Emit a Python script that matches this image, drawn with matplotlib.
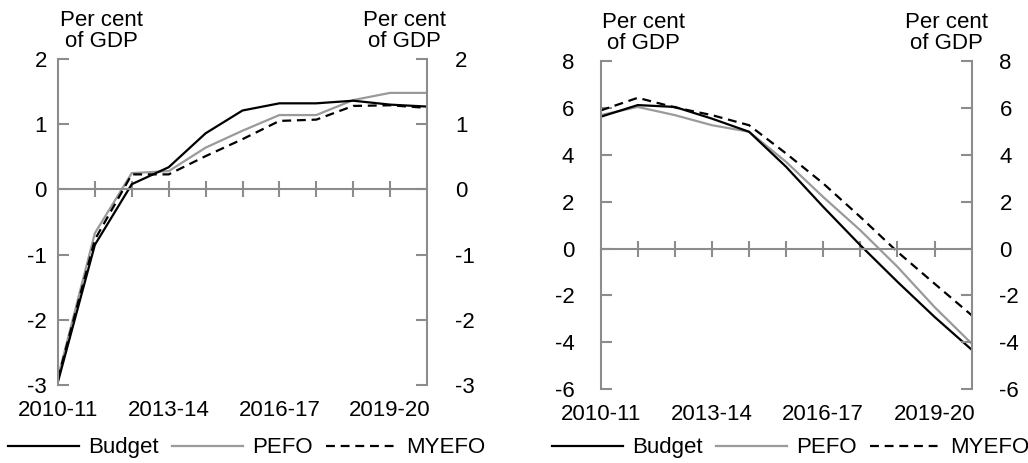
import numpy as np
import matplotlib
matplotlib.use('Agg')
import matplotlib.pyplot as plt
from matplotlib.lines import Line2D

plt.rcParams['font.family'] = ['Liberation Sans', 'DejaVu Sans']
plt.rcParams['font.size'] = 16
plt.rcParams['axes.unicode_minus'] = False

# --- data ---
years = ['2010-11', '2011-12', '2012-13', '2013-14', '2014-15', '2015-16',
         '2016-17', '2017-18', '2018-19', '2019-20', '2020-21']
label_years = ['2010-11', '2013-14', '2016-17', '2019-20']

# left panel
left_budget = [-2.95, -0.85, 0.08, 0.34, 0.86, 1.21, 1.32, 1.32, 1.36, 1.30, 1.27]
left_pefo = [-2.88, -0.67, 0.25, 0.28, 0.64, 0.90, 1.14, 1.14, 1.37, 1.48, 1.48]
left_myefo = [-2.90, -0.77, 0.23, 0.23, 0.51, 0.77, 1.05, 1.07, 1.28, 1.29, 1.25]

# right panel
right_budget = [5.63, 6.13, 6.05, 5.55, 4.99, 3.49, 1.78, 0.14, -1.42, -2.92, -4.32]
right_pefo = [5.70, 6.05, 5.70, 5.27, 4.99, 3.70, 2.20, 0.78, -0.78, -2.50, -4.06]
right_myefo = [5.90, 6.44, 6.03, 5.70, 5.27, 4.06, 2.78, 1.35, -0.14, -1.50, -2.85]

grey_axis = '#8c8c8c'
grey_line = '#9a9a9a'
lw = 1.6
dash = (4, 2.6)

fig = plt.figure(figsize=(10.28, 4.63), dpi=100)
ax1 = fig.add_axes([0.0564, 0.1685, 0.3590, 0.7041])
ax2 = fig.add_axes([0.5843, 0.1598, 0.3609, 0.7078])


def draw_panel(ax, budget, pefo, myefo, ylim, yticks, lpad, rpad, title_x):
    x = np.arange(len(years))
    ax.plot(x, pefo, color=grey_line, lw=lw)
    ax.plot(x, myefo, color='black', lw=lw, dashes=dash)
    ax.plot(x, budget, color='black', lw=lw)

    ax.set_xlim(0, len(years) - 1)
    ax.set_ylim(*ylim)
    ax.set_yticks(yticks)

    ax.spines['top'].set_visible(False)
    ax.spines['right'].set_visible(False)
    ax.spines['left'].set_color(grey_axis)
    ax.spines['left'].set_linewidth(1.5)
    ax.spines['bottom'].set_color(grey_axis)
    ax.spines['bottom'].set_linewidth(1.5)
    ax.spines['bottom'].set_position(('data', 0))

    ax.set_xticks(x[1:-1])
    ax.set_xticklabels([])
    ax.tick_params(axis='x', direction='inout', length=12, width=1.5, color=grey_axis)
    ax.tick_params(axis='y', direction='in', length=8, width=1.5, color=grey_axis, pad=lpad)

    # right-hand axis
    axr = ax.twinx()
    axr.set_ylim(*ylim)
    axr.set_yticks(yticks)
    for s in ['top', 'left', 'bottom']:
        axr.spines[s].set_visible(False)
    axr.spines['right'].set_color(grey_axis)
    axr.spines['right'].set_linewidth(1.5)
    axr.tick_params(axis='y', direction='in', length=8, width=1.5, color=grey_axis, pad=rpad)

    sec = ax.secondary_xaxis(0)
    sec.set_xticks([years.index(y) for y in label_years])
    sec.set_xticklabels(label_years)
    sec.tick_params(length=0, pad=11)
    sec.spines['bottom'].set_visible(False)

    for tx in title_x:
        ax.text(tx, 1.086, 'Per cent\nof GDP', transform=ax.transAxes, ha='center',
                va='center', multialignment='center', linespacing=1.0)


draw_panel(ax1, left_budget, left_pefo, left_myefo, (-3, 2), [-3, -2, -1, 0, 1, 2],
           8, 20, (0.117, 0.938))
draw_panel(ax2, right_budget, right_pefo, right_myefo, (-6, 8), [-6, -4, -2, 0, 2, 4, 6, 8],
           19, 20, (0.116, 0.933))

handles = [Line2D([], [], color='black', lw=lw),
           Line2D([], [], color=grey_line, lw=lw),
           Line2D([], [], color='black', lw=lw, dashes=dash)]
labels = ['Budget', 'PEFO', 'MYEFO']
for lx in (0.0078, 0.537):
    fig.legend(handles, labels, ncol=3, frameon=False, loc='center left',
               bbox_to_anchor=(lx, 0.0324), handlelength=3.2, handletextpad=0.4,
               columnspacing=0.6, borderaxespad=0, borderpad=0)

plt.savefig('out.png', dpi=100)
